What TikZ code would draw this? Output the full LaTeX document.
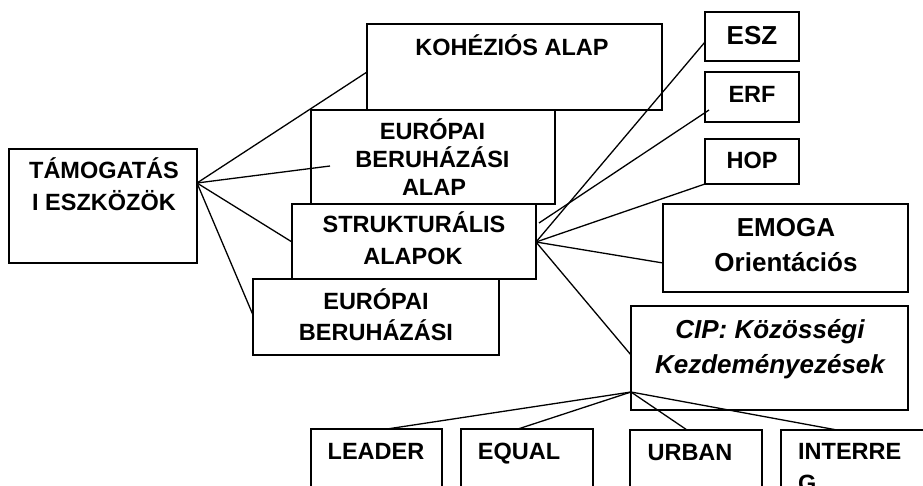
\documentclass[tikz,border=0pt]{standalone}
\usepackage{fontspec}
\setmainfont{Liberation Sans}
\begin{document}
\begin{tikzpicture}[x=1pt,y=-1pt,
  box/.style={draw=black,line width=1.5pt,rectangle,inner sep=0pt,outer sep=0pt},
  conn/.style={draw=black,line width=1.3pt},
  txt/.style={anchor=base,inner sep=0pt,font=\fontsize{23.5}{28}\selectfont\bfseries},
  big/.style={anchor=base,inner sep=0pt,font=\fontsize{26}{30}\selectfont\bfseries},
  bigit/.style={anchor=base,inner sep=0pt,font=\fontsize{26}{30}\selectfont\bfseries\itshape}]
\clip (0,0) rectangle (923,486);
\fill[white] (0,0) rectangle (923,486);
% boxes
\node[box,minimum width=188pt,minimum height=114pt] (tam) at (103,206) {};
\node[box,minimum width=295pt,minimum height=86pt] (koh) at (514.5,67) {};
\node[box,minimum width=244pt,minimum height=94pt] (eur1) at (433,157) {};
\node[box,minimum width=244pt,minimum height=75pt] (str) at (414,241.5) {};
\node[box,minimum width=246pt,minimum height=76pt] (eur2) at (376,317) {};
\node[box,minimum width=94pt,minimum height=49pt] (esz) at (752,36.5) {};
\node[box,minimum width=94pt,minimum height=50pt] (erf) at (752,97) {};
\node[box,minimum width=94pt,minimum height=45pt] (hop) at (752,161.5) {};
\node[box,minimum width=245pt,minimum height=88pt] (emoga) at (785.5,248) {};
\node[box,minimum width=277pt,minimum height=104pt] (cip) at (769.5,358) {};
\node[box,minimum width=131pt,minimum height=101pt] (leader) at (376.5,479.5) {};
\node[box,minimum width=132pt,minimum height=101pt] (equal) at (527,479.5) {};
\node[box,minimum width=132pt,minimum height=100pt] (urban) at (696,480) {};
\node[box,minimum width=159pt,minimum height=100pt] (inter) at (860.5,480) {};
% texts
\node[txt] (t1) at (104,179) {TÁMOGATÁS};
\node[txt] (t2) at (104,211) {I ESZKÖZÖK};
\node[txt] (t3) at (512,56) {KOHÉZIÓS ALAP};
\node[txt] (t4) at (432.5,140) {EURÓPAI};
\node[txt] (t5) at (432.5,168) {BERUHÁZÁSI};
\node[txt] (t6) at (434,196) {ALAP};
\node[txt] (t7) at (414,233) {STRUKTURÁLIS};
\node[txt] (t8) at (413,265) {ALAPOK};
\node[txt] (t9) at (376,309) {EURÓPAI};
\node[txt] (t10) at (376,340) {BERUHÁZÁSI};
\node[big] (t11) at (752,45) {ESZ};
\node[txt] (t12) at (752,103) {ERF};
\node[txt] (t13) at (752,169) {HOP};
\node[big] (t14) at (786,237) {EMOGA};
\node[big] (t15) at (786,272) {Orientációs};
\node[bigit] (t16) at (770,338) {CIP: Közösségi};
\node[bigit] (t17) at (770,373) {Kezdeményezések};
\node[txt] (t18) at (376,459) {LEADER};
\node[txt] (t19) at (519,459) {EQUAL};
\node[txt] (t20) at (690,460) {URBAN};
\node[txt,anchor=base west] (t21) at (798,459) {INTERRE};
\node[txt,anchor=base west] (t22) at (798,491) {G};
% connection points
\coordinate (tamP) at ([yshift=-34pt]tam.north east);
\coordinate (kohL) at ([yshift=-48pt]koh.north west);
\coordinate (eurIn) at ([xshift=19pt,yshift=-56pt]eur1.north west);
\coordinate (strL) at ([yshift=-38pt]str.north west);
\coordinate (eur2L) at ([yshift=-36pt]eur2.north west);
\coordinate (strR) at ([yshift=-38pt]str.north east);
\coordinate (eszL) at ([yshift=-30pt]esz.north west);
\coordinate (erfA) at ([xshift=3pt,yshift=-19pt]str.north east);
\coordinate (erfB) at ([xshift=4pt,yshift=-38pt]erf.north west);
\coordinate (emogaL) at ([yshift=-59pt]emoga.north west);
\coordinate (cipL) at ([yshift=-49pt]cip.north west);
\coordinate (cipP) at ([yshift=18pt]cip.south west);
\coordinate (leaderT) at ([xshift=10.5pt]leader.north);
\coordinate (equalT) at ([xshift=-9pt]equal.north);
\coordinate (urbanT) at ([xshift=-9pt]urban.north);
\coordinate (interT) at ([xshift=-23.5pt]inter.north);
% connectors
\draw[conn] (tamP) -- (kohL);
\draw[conn] (tamP) -- (eurIn);
\draw[conn] (tamP) -- (strL);
\draw[conn] (tamP) -- (eur2L);
\draw[conn] (strR) -- (eszL);
\draw[conn] (erfA) -- (erfB);
\draw[conn] (strR) -- (hop.south west);
\draw[conn] (strR) -- (emogaL);
\draw[conn] (strR) -- (cipL);
\draw[conn] (cipP) -- (leaderT);
\draw[conn] (cipP) -- (equalT);
\draw[conn] (cipP) -- (urbanT);
\draw[conn] (cipP) -- (interT);
\end{tikzpicture}
\end{document}
